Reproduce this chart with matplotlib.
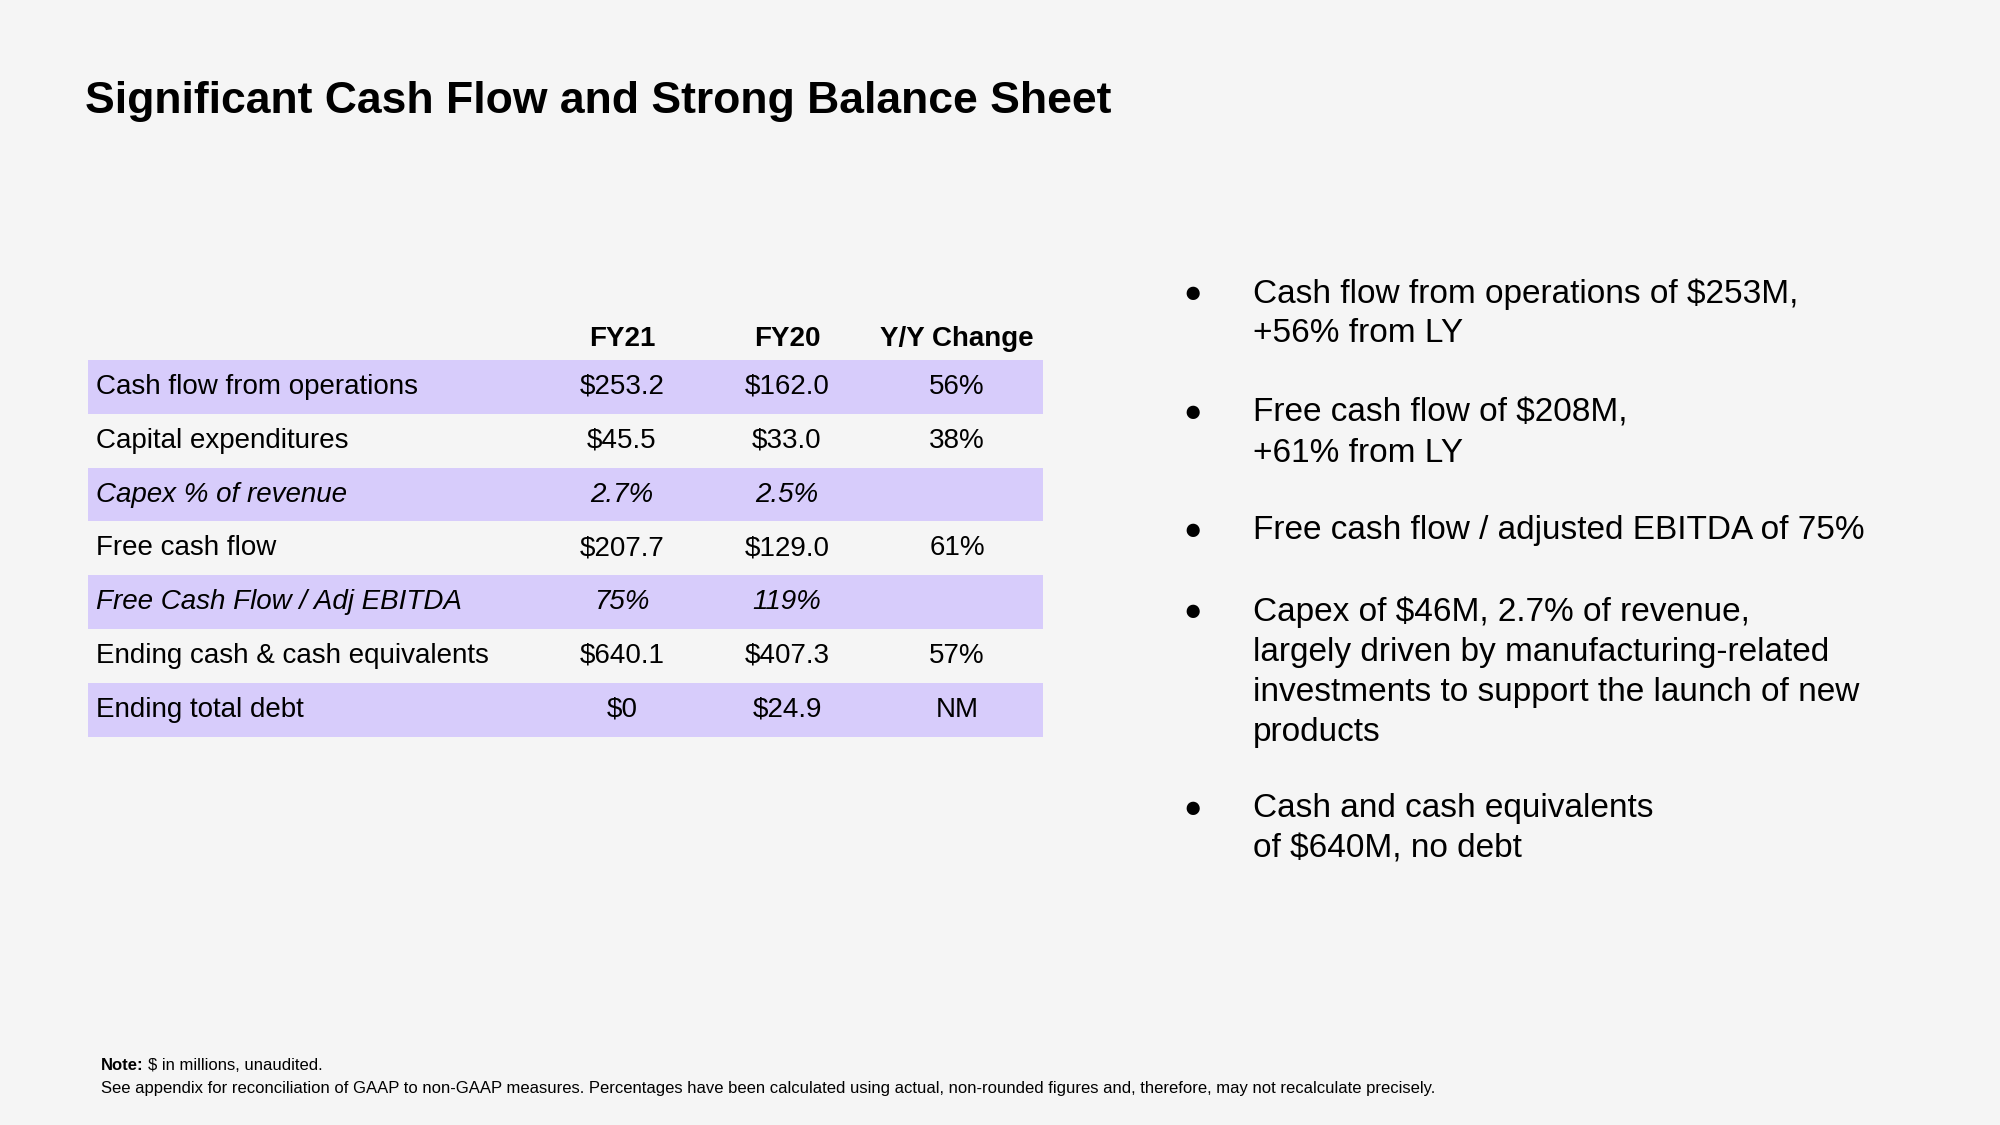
import matplotlib.pyplot as plt

plt.rcParams['font.family'] = ['Liberation Sans', 'DejaVu Sans']

# table data
row_labels = ["Cash flow from operations", "Capital expenditures", "Capex % of revenue",
              "Free cash flow", "Free Cash Flow / Adj EBITDA",
              "Ending cash & cash equivalents", "Ending total debt"]
fy21 = ["$253.2", "$45.5", "2.7%", "$207.7", "75%", "$640.1", "$0"]
fy20 = ["$162.0", "$33.0", "2.5%", "$129.0", "119%", "$407.3", "$24.9"]
yoy = ["56%", "38%", "", "61%", "", "57%", "NM"]
italic_rows = [2, 4]
col_headers = ["FY21", "FY20", "Y/Y Change"]

bullets = [
    ["Cash flow from operations of $253M,", "+56% from LY"],
    ["Free cash flow of $208M,", "+61% from LY"],
    ["Free cash flow / adjusted EBITDA of 75%"],
    ["Capex of $46M, 2.7% of revenue,", "largely driven by manufacturing-related",
     "investments to support the launch of new", "products"],
    ["Cash and cash equivalents", "of $640M, no debt"],
]

bg = "#F5F5F5"
band = "#D7CCFB"

fig = plt.figure(figsize=(20, 11.25), dpi=100, facecolor=bg)
ax = fig.add_axes([0, 0, 1, 1])
ax.set_facecolor(bg)
ax.set_xlim(0, 2000)
ax.set_ylim(1125, 0)
ax.axis("off")

# title
ax.text(85, 101, "Significant Cash Flow and Strong Balance Sheet", fontsize=32,
        fontweight="bold", va="center", ha="left", color="black")

# table
top = 360
rh = 53.8
col_x = [622, 787, 957]
ys = [top + rh * (i + 0.5) for i in range(len(row_labels))]

shaded = [i for i in range(len(row_labels)) if i % 2 == 0]
ax.barh([ys[i] for i in shaded], [1043 - 88] * len(shaded), left=88, height=rh,
        color=band, edgecolor="none")

for cx, h in zip(col_x, col_headers):
    ax.text(cx, 339, h, fontsize=20, fontweight="bold", ha="center", va="center")

for i, lab in enumerate(row_labels):
    st = "italic" if i in italic_rows else "normal"
    ax.text(96, ys[i], lab, fontsize=20, style=st, ha="left", va="center")
    for cx, v in zip(col_x, [fy21[i], fy20[i], yoy[i]]):
        ax.text(cx, ys[i], v, fontsize=20, style=st, ha="center", va="center")

# bullets
line_h = 40
bullet_y = [294, 413, 531, 612, 809]
for by, lines in zip(bullet_y, bullets):
    ax.text(1193, by, "\u25CF", fontsize=22, ha="center", va="center")
    for j, ln in enumerate(lines):
        ax.text(1253, by + j * line_h, ln, fontsize=24, ha="left", va="center")

# footnote
note = ax.text(101, 1065, "Note:", fontsize=12, fontweight="bold", ha="left", va="center")
ax.annotate("$ in millions, unaudited.", xy=(1, 0.5), xycoords=note,
            xytext=(3, 0), textcoords="offset points", fontsize=12, ha="left", va="center")
ax.text(101, 1088, "See appendix for reconciliation of GAAP to non-GAAP measures. Percentages have been "
        "calculated using actual, non-rounded figures and, therefore, may not recalculate precisely.",
        fontsize=12, ha="left", va="center")

fig.savefig("out.png", dpi=100, facecolor=bg)
